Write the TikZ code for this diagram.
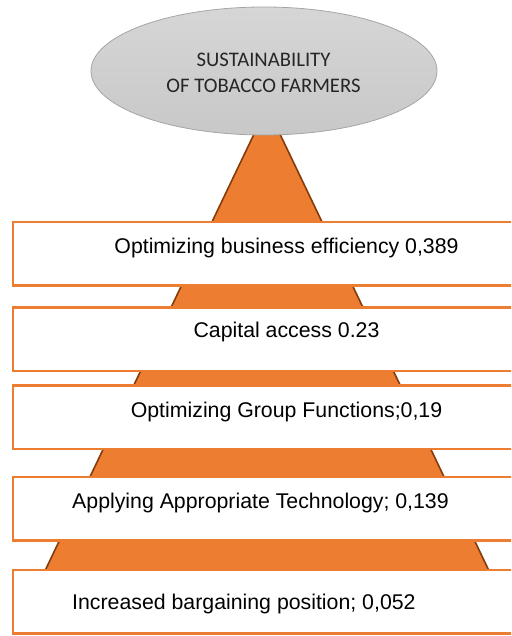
\documentclass[tikz,border=0pt]{standalone}
\usepackage{fontspec}
\setmainfont{Liberation Sans}
\newfontfamily\calibri{Carlito}
\usetikzlibrary{positioning, shapes.geometric}
\usepackage{xcolor}
\definecolor{pyrorange}{HTML}{ED7D31}
\definecolor{pyredge}{HTML}{843C0C}
\definecolor{goaltop}{HTML}{D6D6D6}
\definecolor{goalbot}{HTML}{C8C8C8}
\definecolor{goalline}{HTML}{A5A5A5}

\begin{document}
\begin{tikzpicture}[
    x=1pt, y=1pt,
    font=\fontsize{21.3}{25}\selectfont,
    level/.style={draw=pyrorange, fill=white, line width=2.5pt, outer sep=0pt,
                  inner sep=0pt, minimum width=547pt, minimum height=63.5pt},
    lbl/.style={anchor=base, inner sep=0pt},
    goal/.style={ellipse, draw=goalline, top color=goaltop, bottom color=goalbot,
                 line width=0.8pt, minimum width=346pt, minimum height=128pt, inner sep=0pt},
    goaltext/.style={align=center, inner sep=0pt, text=black!85,
                     font=\calibri\fontsize{20.7}{25.6}\selectfont},
  ]
    \path[use as bounding box, clip] (0,0) rectangle (511,-636);

    % pyramid sits behind the goal and the level boxes
    \coordinate (apex)  at (267,-107);
    \coordinate (baseL) at (31,-600);
    \coordinate (baseR) at (503,-600);
    \draw[pyredge, fill=pyrorange, line width=1.6pt] (apex) -- (baseL) -- (baseR) -- cycle;

    \node[goal] (goal) at (264,-71) {};
    \node[goaltext] (goallbl) at (263.5,-72.8) {SUSTAINABILITY\\OF TOBACCO FARMERS};

    % level boxes, top to bottom
    \node[level, anchor=north] (b1) at (286.5,-222) {};
    \node[level, below=21.8pt of b1] (b2) {};
    \node[level, below=14.7pt of b2] (b3) {};
    \node[level, below=28pt of b3]   (b4) {};
    \node[level, below=29.7pt of b4] (b5) {};

    \node[lbl] (t1) at ([yshift=-31pt]b1.north) {Optimizing business efficiency 0,389};
    \node[lbl] (t2) at ([yshift=-30.5pt]b2.north) {Capital access 0.23};
    \node[lbl] (t3) at ([yshift=-31.5pt]b3.north) {Optimizing Group Functions;0,19};
    \node[lbl, anchor=base west] (t4) at ([xshift=59pt, yshift=-31pt]b4.north west)
      {Applying Appropriate Technology; 0,139};
    \node[lbl, anchor=base west] (t5) at ([xshift=59pt, yshift=-39.3pt]b5.north west)
      {Increased bargaining position; 0,052};
  \end{tikzpicture}
\end{document}
